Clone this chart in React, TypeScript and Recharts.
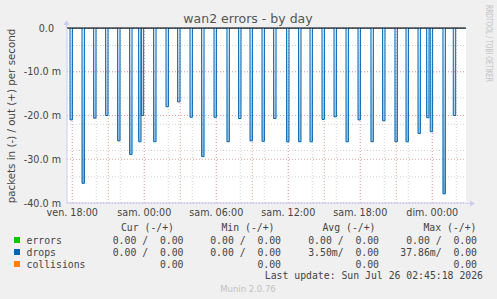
import { ComposedChart, Area, XAxis, YAxis, CartesianGrid, ReferenceLine } from "recharts";

// x axis in hours, 0 = sam. 00:00
const tickHours = [-6, 0, 6, 12, 18, 24];
const tickLabels = ["ven. 18:00", "sam. 00:00", "sam. 06:00", "sam. 12:00", "sam. 18:00", "dim. 00:00"];
const yTicks = [0, -10, -20, -30, -40];
const yTickLabels = ["0.0", "-10.0 m", "-20.0 m", "-30.0 m", "-40.0 m"];

// drops "in" (drawn negative), milli packets/s
const dropTimes = [
  -6.19, -5.19, -4.22, -3.22, -2.22, -1.22, -0.47, -0.25, 0.78, 1.81, 2.78, 3.81,
  4.78, 5.81, 6.89, 7.86, 8.81, 9.81, 10.78, 11.86, 12.86, 13.81, 14.81, 15.81,
  16.81, 17.81, 18.89, 19.86, 20.89, 21.81, 22.81, 23.53, 23.83, 24.89, 25.75,
];
const dropDepths = [
  21.0, 35.5, 20.6, 20.0, 25.8, 28.9, 26.0, 20.0, 26.0, 18.0, 16.9, 20.4,
  29.4, 20.4, 26.0, 20.7, 25.8, 25.9, 20.7, 26.0, 26.0, 26.0, 20.9, 20.3,
  26.0, 21.0, 26.0, 21.2, 26.0, 26.0, 24.1, 20.5, 23.7, 37.9, 20.0,
];

const legendNames = ["errors", "drops", "collisions"];
const legendColors = ["#00cc00", "#0066b3", "#ff8000"];
const curValues = ["0.00 /  0.00", "0.00 /  0.00", "0.00"];
const minValues = ["0.00 /  0.00", "0.00 /  0.00", "0.00"];
const avgValues = ["0.00 /  0.00", "3.50m/  0.00", "0.00"];
const maxValues = ["0.00 /  0.00", "37.86m/  0.00", "0.00"];

const X_DOMAIN: [number, number] = [-6.44, 26.81];
const SPIKE_W = 0.2; // one sample wide, in hours

const minorHours = Array.from({ length: 33 }, (_, i) => i - 6);
const majorHours = [-6, -3, 0, 3, 6, 9, 12, 15, 18, 21, 24];
const minorY = Array.from({ length: 21 }, (_, i) => -i * 2);

function buildRows() {
  const rows: { t: number; v: number }[] = [{ t: X_DOMAIN[0], v: 0 }];
  dropTimes.forEach((t, i) => {
    const d = -dropDepths[i];
    rows.push({ t, v: 0 }, { t, v: d }, { t: t + SPIKE_W, v: d }, { t: t + SPIKE_W, v: 0 });
  });
  rows.push({ t: X_DOMAIN[1], v: 0 });
  return rows;
}

const axisColor = "#ccccf4";
const textColor = "#444";

function YTick(p: any) {
  const i = yTicks.indexOf(p.payload.value);
  const x = p.payload.value === 0 ? 54 : 61;
  return (
    <text x={x} y={p.y + 3.5} textAnchor="end" fontSize={9.6} fill={textColor} fontFamily="DejaVu Sans">
      {yTickLabels[i]}
    </text>
  );
}

function XTick(p: any) {
  const i = tickHours.indexOf(p.payload.value);
  return (
    <text x={p.x} y={215.5} textAnchor="middle" fontSize={9.6} fill={textColor} fontFamily="DejaVu Sans">
      {tickLabels[i]}
    </text>
  );
}

export default function App() {
  const rows = buildRows();
  const mono = { fontFamily: "DejaVu Sans Mono", fontSize: 9.8, fill: textColor, whiteSpace: "pre" as const };
  const cols = [
    { head: "Cur (-/+)", x: 183.5, hx: 174, vals: curValues },
    { head: "Min (-/+)", x: 281, hx: 274.5, vals: minValues },
    { head: "Avg (-/+)", x: 379, hx: 375.5, vals: avgValues },
    { head: "Max (-/+)", x: 477, hx: 476.5, vals: maxValues },
  ];
  return (
    <div style={{ position: "absolute", left: 0, top: 0, width: 497, height: 299, background: "#f0f0f0" }}>
      <ComposedChart
        width={497}
        height={299}
        data={rows}
        margin={{ top: 28, right: 31, bottom: 0, left: 0 }}
        style={{ position: "absolute", left: 0, top: 0 }}
      >
        <defs>
          <linearGradient id="dropFill" x1="0" y1="0" x2="0" y2="1">
            <stop offset="0%" stopColor="#0066b3" stopOpacity={0.08} />
            <stop offset="100%" stopColor="#0066b3" stopOpacity={0.55} />
          </linearGradient>
        </defs>
        <CartesianGrid
          fill="#ffffff"
          fillOpacity={1}
          stroke="#d2d2d2"
          strokeDasharray="1 2"
          verticalValues={minorHours}
          horizontalValues={minorY}
        />
        <CartesianGrid
          stroke="#eaa0a0"
          strokeDasharray="1 2"
          verticalValues={majorHours}
          horizontalValues={yTicks}
        />
        <XAxis
          type="number"
          dataKey="t"
          domain={X_DOMAIN}
          allowDataOverflow
          ticks={tickHours}
          tick={XTick}
          tickLine={false}
          axisLine={{ stroke: axisColor }}
          height={96}
        />
        <YAxis
          type="number"
          domain={[-40, 0]}
          allowDataOverflow
          ticks={yTicks}
          tick={YTick}
          tickLine={false}
          axisLine={{ stroke: axisColor }}
          width={67}
        />
        <Area
          type="linear"
          dataKey="v"
          baseValue={0}
          stroke="#0066b3"
          strokeWidth={1}
          fill="url(#dropFill)"
          fillOpacity={1}
          dot={false}
          activeDot={false}
          isAnimationActive={false}
        />
        <ReferenceLine y={0} stroke="#000" strokeWidth={1} />
      </ComposedChart>
      <svg
        width={497}
        height={299}
        style={{ position: "absolute", left: 0, top: 0, pointerEvents: "none" }}
      >
        {/* axis arrows */}
        <line x1={66.5} y1={28} x2={66.5} y2={21} stroke={axisColor} />
        <polygon points="63.5,25 69.5,25 66.5,20" fill={axisColor} />
        <line x1={466} y1={203.5} x2={472} y2={203.5} stroke={axisColor} />
        <polygon points="470,200.5 470,206.5 475,203.5" fill={axisColor} />

        <text x={248} y={23} textAnchor="middle" fontSize={12.5} fill="#555" fontFamily="DejaVu Sans">
          wan2 errors - by day
        </text>
        <text
          x={14.5}
          y={116}
          textAnchor="middle"
          fontSize={10.3}
          fill={textColor}
          fontFamily="DejaVu Sans"
          transform="rotate(-90, 14.5, 116)"
        >
          packets in (-) / out (+) per second
        </text>
        <text
          x={486}
          y={43.5}
          textAnchor="middle"
          fontSize={8}
          fill="#c4c4c4"
          fontFamily="DejaVu Sans"
          textLength={77}
          lengthAdjust="spacingAndGlyphs"
          transform="rotate(90, 486, 43.5)"
        >
          RRDTOOL / TOBI OETIKER
        </text>

        {cols.map((c) => (
          <text key={c.head} x={c.hx} y={230.5} textAnchor="end" style={mono}>
            {c.head}
          </text>
        ))}
        {legendNames.map((name, r) => (
          <g key={name}>
            <rect x={14} y={237 + r * 12} width={6} height={6} fill={legendColors[r]} />
            <text x={26.5} y={243.5 + r * 12} style={mono}>
              {name}
            </text>
            {cols.map((c) => (
              <text key={c.head} x={c.x} y={243.5 + r * 12} textAnchor="end" style={mono}>
                {c.vals[r]}
              </text>
            ))}
          </g>
        ))}
        <text x={483} y={279} textAnchor="end" style={mono}>
          Last update: Sun Jul 26 02:45:18 2026
        </text>
        <text x={248} y={291.5} textAnchor="middle" fontSize={8.5} fill="#c0c0c0" fontFamily="DejaVu Sans">
          Munin 2.0.76
        </text>
      </svg>
    </div>
  );
}
